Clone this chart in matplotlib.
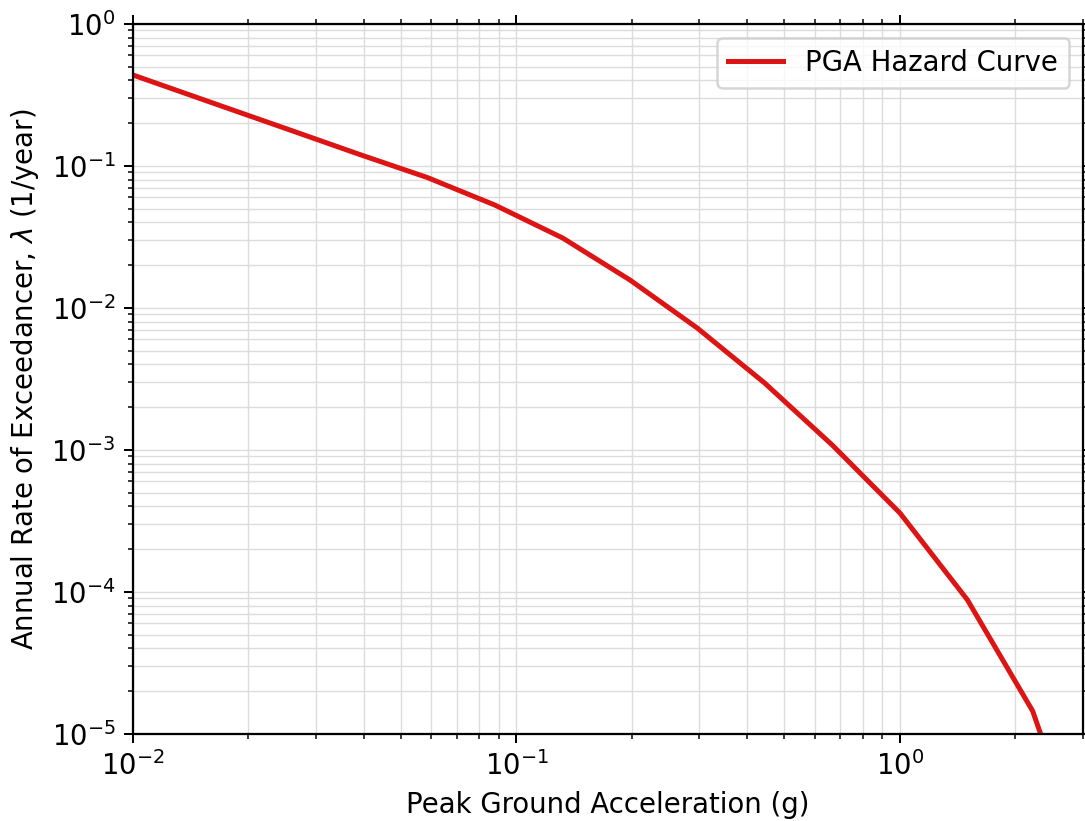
import numpy as np
import matplotlib
matplotlib.use("Agg")
import matplotlib.pyplot as plt

plt.rcParams['font.size'] = 11

# PGA hazard curve values (g, 1/year)
pga = [0.01, 0.0173, 0.026, 0.039, 0.0585, 0.0878, 0.132, 0.198, 0.296,
       0.444, 0.667, 1.0, 1.5, 2.22, 2.35]
rate = [0.437, 0.26, 0.177, 0.1205, 0.083, 0.0531, 0.0311, 0.0157, 0.00723,
        0.00296, 0.00108, 3.6e-4, 8.8e-5, 1.45e-5, 9.3e-6]

dpi = 180
fig = plt.figure(figsize=(1085 / dpi, 821 / dpi), dpi=dpi)
ax = fig.add_axes([0.1226, 0.106, 0.8754, 0.8648])

ax.loglog(pga, rate, color='#dc1414', lw=2, label='PGA Hazard Curve')

ax.set_xlim(0.01, 3.0)
ax.set_ylim(1e-5, 1.0)
ax.grid(True, which='both', color='#dcdcdc', lw=0.55)
ax.tick_params(which='both', top=True, right=True)
for s in ax.spines.values():
    s.set_linewidth(0.9)

ax.set_xlabel('Peak Ground Acceleration (g)')
ax.set_ylabel(r'Annual Rate of Exceedancer, $\lambda$ (1/year)')
ax.legend(loc='upper right')

fig.savefig('out.png', dpi=dpi)
